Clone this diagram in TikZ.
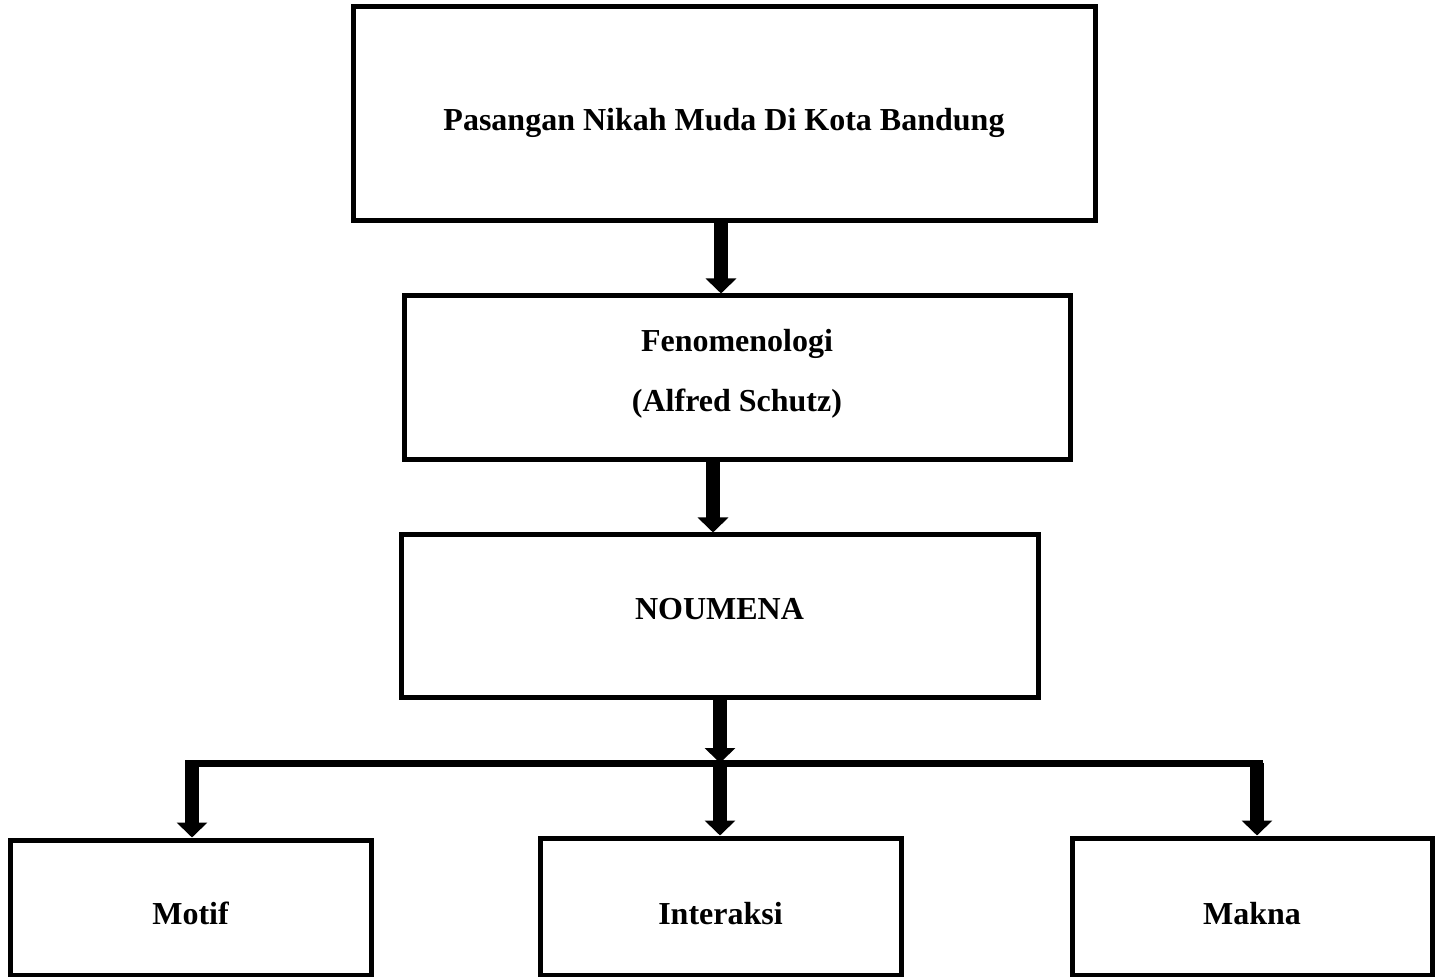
\documentclass[tikz,border=0pt]{standalone}
\usepackage{fontspec}
\setmainfont{Liberation Serif}
\usetikzlibrary{arrows.meta}

\begin{document}
\begin{tikzpicture}[x=0.5pt,y=-0.5pt,
    every node/.style={font=\fontsize{16}{30}\selectfont\bfseries},
    box/.style={draw, line width=2.5pt, align=center, inner sep=0pt,
                text depth=0pt},
    bigarr/.style={-{Triangle[length=7.5pt,width=15pt]}, line width=7pt},
    bar/.style={line width=3.5pt}]
  \useasboundingbox (0,0) rectangle (1439,977);
  \node[box, minimum width=371pt, minimum height=107pt, text height=17pt] (pasangan) at (724,114)
    {Pasangan Nikah Muda Di Kota Bandung};
  \node[box, minimum width=333pt, minimum height=82pt, text height=34pt] (fenomena) at (737,378)
    {Fenomenologi\\(Alfred Schutz)};
  \node[box, minimum width=318.5pt, minimum height=81pt, text height=3pt] (noumena) at (719.5,616)
    {NOUMENA};
  \node[box, minimum width=180.5pt, minimum height=67.5pt, text height=17pt] (motif) at (190.5,907.5)
    {Motif};
  \node[box, minimum width=180.5pt, minimum height=68.5pt, text height=18pt] (interaksi) at (720.5,906.5)
    {Interaksi};
  \node[box, minimum width=180pt, minimum height=68.5pt, text height=18pt] (makna) at (1252,906.5)
    {Makna};
  \coordinate (cabang) at (720,763);
  \coordinate (kiri) at (192,763);
  \coordinate (kanan) at (1257,763);
  \draw[bigarr] ([xshift=-1.5pt]pasangan.south) -- ([xshift=-1.5pt]pasangan.south |- fenomena.north);
  \draw[bigarr] ([xshift=-12pt]fenomena.south) -- ([xshift=-12pt]fenomena.south |- noumena.north);
  \draw[bar] ([xshift=-3.5pt]kiri) -- ([xshift=3pt]kanan);
  \draw[bigarr] (noumena.south -| cabang) -- (cabang);
  \draw[bigarr] (kiri) -- (kiri |- motif.north);
  \draw[bigarr] (cabang) -- (cabang |- interaksi.north);
  \draw[bigarr] (kanan) -- (kanan |- makna.north);
\end{tikzpicture}
\end{document}
